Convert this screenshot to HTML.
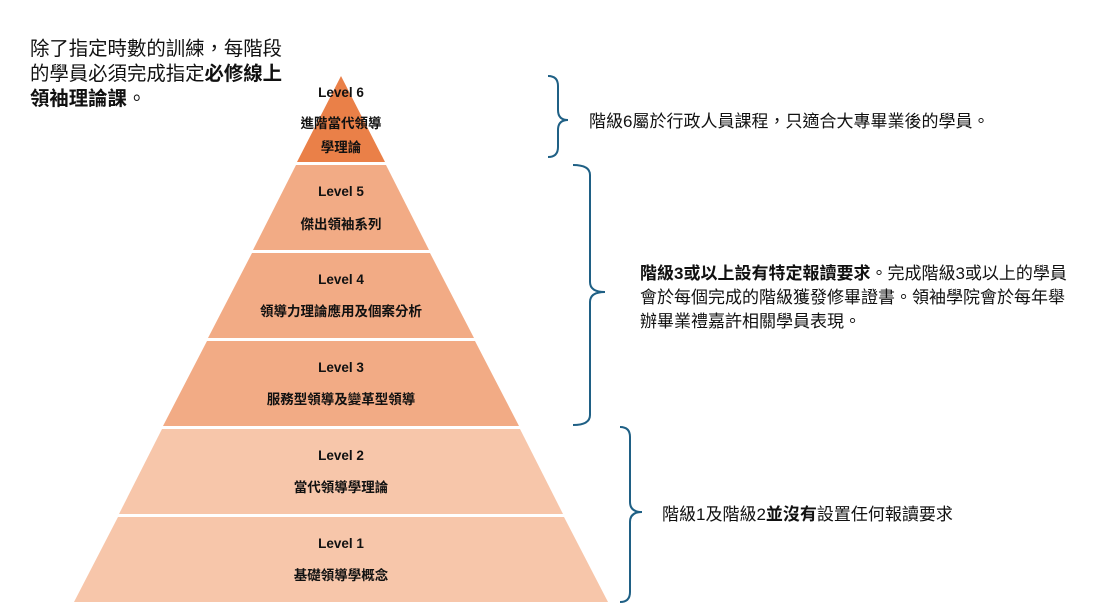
<!DOCTYPE html>
<html><head><meta charset="utf-8"><style>
body{margin:0;background:#fff;width:1107px;height:611px;overflow:hidden;position:relative;font-family:"Liberation Sans","Noto Sans CJK TC",sans-serif}
.t{position:absolute;color:#111;white-space:nowrap}
</style></head><body>
<svg width="1107" height="611" style="position:absolute;left:0;top:0" font-family="Liberation Sans, Noto Sans CJK TC, sans-serif">
<polygon points="341,76 385,162 297,162" fill="#EA8048"/>
<polygon points="296,165 386,165 429,250 253,250" fill="#F2AB85"/>
<polygon points="252,253 430,253 474,338 208,338" fill="#F2AB85"/>
<polygon points="207,341 475,341 519,426 163,426" fill="#F2AB85"/>
<polygon points="162,429 520,429 563,514 119,514" fill="#F7C6AA"/>
<polygon points="118,517 564,517 608,602 74,602" fill="#F7C6AA"/>
<g fill="none" stroke="#1F6085" stroke-width="2">
<path d="M548,76 Q558,76 558,86 L558,110 Q558,120 568,120 Q558,120 558,130 L558,147 Q558,157 548,157"/>
<path d="M573,165 Q590,165 590,175 L590,282 Q590,292 605,292 Q590,292 590,302 L590,415 Q590,425 573,425"/>
<path d="M620,427 Q630,427 630,437 L630,502 Q630,512 642,512 Q630,512 630,522 L630,592 Q630,602 620,602"/>
</g>
<g font-size="13.5" font-weight="bold" text-anchor="middle" fill="#111">
<text x="341" y="97">Level 6</text><text x="341" y="128">進階當代領導</text><text x="341" y="152">學理論</text>
<text x="341" y="196">Level 5</text><text x="341" y="229">傑出領袖系列</text>
<text x="341" y="284">Level 4</text><text x="341" y="316">領導力理論應用及個案分析</text>
<text x="341" y="372">Level 3</text><text x="341" y="404">服務型領導及變革型領導</text>
<text x="341" y="460">Level 2</text><text x="341" y="492">當代領導學理論</text>
<text x="341" y="548">Level 1</text><text x="341" y="580">基礎領導學概念</text>
</g>
</svg>
<div class="t" style="left:30px;top:37px;font-size:19.4px;line-height:25px">除了指定時數的訓練，每階段<br>的學員必須完成指定<b>必修線上<br>領袖理論課</b>。</div>
<div class="t" style="left:589px;top:107px;font-size:17px">階級6屬於行政人員課程，只適合大專畢業後的學員。</div>
<div class="t" style="left:640px;top:262px;font-size:17px;line-height:24px"><b>階級3或以上設有特定報讀要求</b>。完成階級3或以上的學員<br>會於每個完成的階級獲發修畢證書。領袖學院會於每年舉<br>辦畢業禮嘉許相關學員表現。</div>
<div class="t" style="left:662px;top:500px;font-size:17px">階級1及階級2<b>並沒有</b>設置任何報讀要求</div>
</body></html>
